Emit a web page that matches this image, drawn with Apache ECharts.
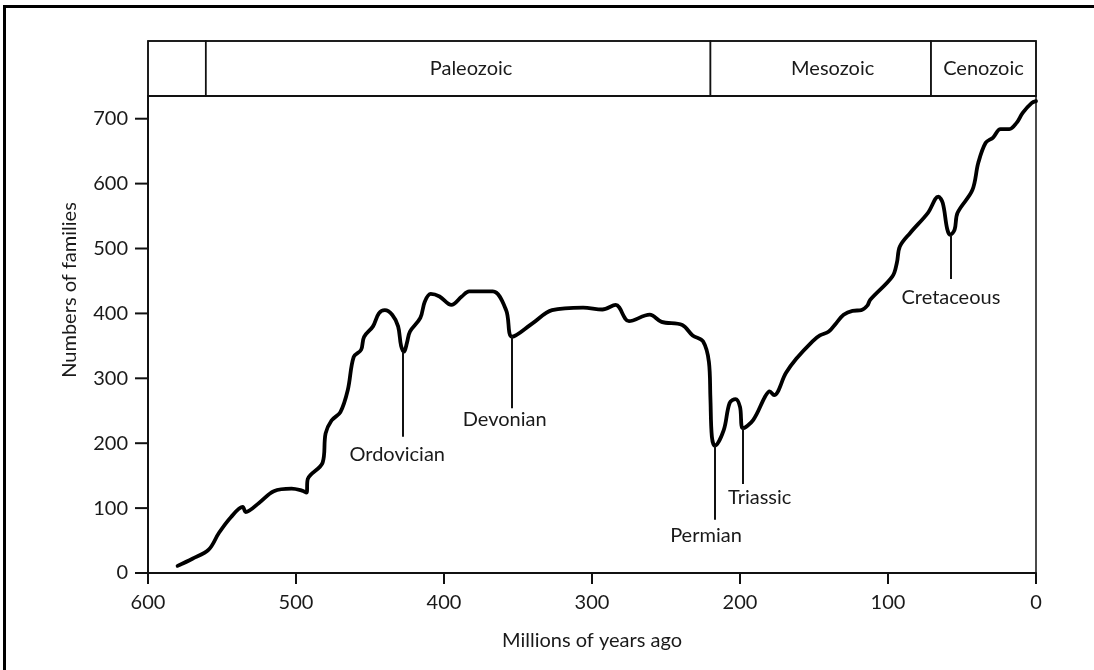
<!DOCTYPE html>
<html>
<head>
<meta charset="utf-8">
<script src="https://cdn.jsdelivr.net/npm/echarts@6/dist/echarts.min.js"></script>
<style>
  html, body { margin: 0; padding: 0; background: #fff; }
  #ch1 { width: 1094px; height: 670px; }
</style>
</head>
<body>
<div id="ch1"></div>
<script>
// millions of years ago / number of marine families
var ages = [580, 570, 559, 552, 544, 536, 534, 525, 515, 503, 496, 493, 492, 482, 480, 476, 470, 465, 461, 456,
  454, 448, 444, 440, 435, 431, 429, 427, 425, 423, 416, 413, 409, 403, 395, 388, 383, 367, 358, 354,
  340, 327, 306, 293, 284, 275, 261, 253, 239, 232, 225, 221, 220, 219, 217, 211, 207, 203, 200, 198,
  191, 183, 180, 177, 169, 162, 151, 146, 140, 135, 130, 124, 118, 114, 112, 97, 94, 92, 85, 73,
  66, 63, 60, 58, 55, 53, 43, 39, 34, 29, 24, 18, 13, 9, 3, 0];
var families = [11, 22, 36, 62, 86, 102, 94, 108, 126, 130, 127, 124, 145, 170, 215, 235, 248, 282, 333, 344,
  364, 380, 400, 405, 398, 380, 350, 341, 355, 372, 393, 418, 430, 426, 413, 426, 434, 434, 405, 364,
  385, 405, 409, 406, 413, 388, 398, 387, 382, 366, 357, 325, 270, 210, 196, 220, 262, 268, 256, 223,
  236, 272, 280, 274, 308, 330, 357, 366, 372, 385, 398, 404, 405, 412, 421, 457, 478, 503, 524, 555,
  580, 570, 530, 521, 529, 555, 590, 632, 663, 671, 684, 684, 694, 709, 724, 727];

var xTicks = [600, 500, 400, 300, 200, 100, 0];
var yTicks = [0, 100, 200, 300, 400, 500, 600, 700];

// eras: name, start, end (Ma)
var eraNames = ['', 'Paleozoic', 'Mesozoic', 'Cenozoic'];
var eraStart = [600, 561, 220, 71];
var eraEnd = [561, 220, 71, 0];

// extinction events: leader line from curve down to label
var eventNames = ['Ordovician', 'Devonian', 'Permian', 'Triassic', 'Cretaceous'];
var eventAge = [428, 354, 217, 198, 57.5];
var eventTop = [341, 365, 196, 224, 521];
var eventBottom = [210, 254, 82, 137, 453];
var eventLabelAge = [431.6, 359, 223, 186.7, 57.5];
var eventLabelVal = [183, 236, 57, 117, 425];

window.onload = function() {
  var ch1 = echarts.init(document.getElementById('ch1'));
  var font = 'Lato, "Open Sans", sans-serif';
  var txt = '#1a1a1a';

  var seriesData = ages.map(function(a, i) { return [a, families[i]]; });

  var areas = eraNames.map(function(n, i) {
    return [{ xAxis: eraStart[i], name: n }, { xAxis: eraEnd[i] }];
  });
  var eraOffsets = [[0, 0], [13, 0], [12, 0], [0, 0]];
  areas.forEach(function(a, i) {
    a[0].label = { offset: eraOffsets[i] };
  });

  var lines = eventNames.map(function(n, i) {
    return [{ coord: [eventAge[i], eventTop[i]] }, { coord: [eventAge[i], eventBottom[i]] }];
  });
  var points = eventNames.map(function(n, i) {
    return { name: n, coord: [eventLabelAge[i], eventLabelVal[i]] };
  });

  // axis ticks drawn from the axis scale (outside ticks)
  function tickRenderer(dx, dy) {
    return function(params, api) {
      var p = api.coord([api.value(0), api.value(1)]);
      return {
        type: 'line',
        shape: { x1: p[0], y1: p[1], x2: p[0] + dx, y2: p[1] + dy },
        style: { stroke: '#111', lineWidth: 2 }
      };
    };
  }

  var op1 = {
    animation: false,
    textStyle: { fontFamily: font },
    grid: [
      { left: 148, right: 58, top: 96, bottom: 97, show: true, borderColor: '#111', borderWidth: 1.5 },
      { left: 148, right: 58, top: 41, height: 55, show: true, borderColor: '#111', borderWidth: 1.5 }
    ],
    xAxis: [{
      type: 'value',
      position: 'bottom',
      min: 0,
      max: 600,
      interval: 100,
      inverse: true,
      name: 'Millions of years ago',
      nameLocation: 'middle',
      nameGap: 58,
      nameTextStyle: { fontSize: 20, color: txt, fontFamily: font },
      axisLine: { show: true, onZero: false, lineStyle: { color: '#111', width: 2 } },
      axisTick: { show: false },
      axisLabel: { fontSize: 20, color: txt, margin: 20, fontFamily: font },
      splitLine: { show: false }
    }, {
      type: 'value', gridIndex: 1, min: 0, max: 600, inverse: true, show: false
    }],
    yAxis: [{
      type: 'value',
      position: 'left',
      min: 0,
      max: 735,
      interval: 100,
      axisLine: { show: true, onZero: false, lineStyle: { color: '#111', width: 2 } },
      axisTick: { show: false },
      axisLabel: { fontSize: 20, color: txt, margin: 20, customValues: yTicks, fontFamily: font },
      splitLine: { show: false }
    }, {
      type: 'value', gridIndex: 1, min: 0, max: 1, show: false
    }],
    series: [{
      type: 'line',
      data: seriesData,
      smooth: 0.35,
      showSymbol: false,
      lineStyle: { color: '#000', width: 3.8, cap: 'round', join: 'round' },
      silent: true,
      markLine: {
        silent: true,
        symbol: ['none', 'none'],
        lineStyle: { color: '#111', width: 2, type: 'solid' },
        label: { show: false },
        data: lines
      },
      markPoint: {
        silent: true,
        symbol: 'circle',
        symbolSize: 1,
        itemStyle: { color: 'rgba(0,0,0,0)' },
        label: {
          show: true,
          position: 'inside',
          formatter: '{b}',
          fontSize: 20,
          color: txt,
          fontFamily: font
        },
        data: points
      }
    }, {
      type: 'custom',
      silent: true,
      clip: false,
      z: 5,
      renderItem: tickRenderer(0, 11),
      data: xTicks.map(function(v) { return [v, 0]; })
    }, {
      type: 'custom',
      silent: true,
      clip: false,
      z: 5,
      renderItem: tickRenderer(-13, 0),
      data: yTicks.map(function(v) { return [600, v]; })
    }, {
      type: 'line',
      xAxisIndex: 1,
      yAxisIndex: 1,
      data: [],
      silent: true,
      markArea: {
        silent: true,
        itemStyle: { color: 'rgba(0,0,0,0)', borderColor: '#111', borderWidth: 1.5 },
        label: { show: true, position: 'inside', fontSize: 20, color: txt, fontFamily: font },
        data: areas
      }
    }],
    graphic: [
      { type: 'line', shape: { x1: 3, y1: 6.5, x2: 1094, y2: 6.5 }, style: { stroke: '#000', lineWidth: 3 } },
      { type: 'line', shape: { x1: 4.5, y1: 5, x2: 4.5, y2: 670 }, style: { stroke: '#000', lineWidth: 3 } },
      {
        type: 'text',
        x: 70,
        y: 290,
        rotation: Math.PI / 2,
        style: {
          text: 'Numbers of families',
          align: 'center',
          verticalAlign: 'middle',
          fontSize: 20,
          fontFamily: font,
          fill: txt
        }
      }
    ]
  };

  ch1.setOption(op1);
};
</script>
</body>
</html>
